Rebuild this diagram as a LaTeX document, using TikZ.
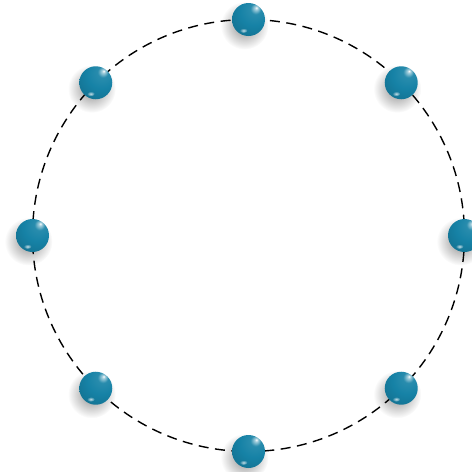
\documentclass[tikz,border=0pt]{standalone}
\usetikzlibrary{fadings}
\definecolor{bc}{RGB}{22,130,166}
\pgfdeclareradialshading{myball}{\pgfpoint{12bp}{18bp}}{color(0bp)=(white); color(2.5bp)=(bc!40!white); color(8bp)=(bc!92!white); color(22bp)=(bc); color(50bp)=(bc!80!black); color(80bp)=(bc!55!black)}
\tikzfading[name=softfade, inner color=transparent!0, outer color=transparent!100]
\tikzset{
  ringline/.style={black, line width=1.4pt, dash pattern=on 10pt off 6.5pt},
  ballnode/.style={circle, minimum size=33pt, inner sep=0pt, shade, shading=myball},
  ballshadow/.style={black, opacity=0.45, path fading=softfade},
  ballspot/.style={white, opacity=0.75, path fading=softfade}
}
\begin{document}
\begin{tikzpicture}[x=1pt,y=-1pt]
\useasboundingbox (0,0) rectangle (472,472);
\coordinate (c) at (248.5,235.5);
\draw[ringline] (c) circle (216);
\foreach \a [count=\i] in {90,45,0,-45,-90,-135,180,135} {
  \path (c) ++(\a:216 and -216) coordinate (p\i);
  \fill[ballshadow] ([xshift=-4pt,yshift=-6pt]p\i) circle (24);
  \node[ballnode] (b\i) at (p\i) {};
  \fill[ballspot] ([xshift=-5pt,yshift=-11pt]p\i) ellipse (4 and 2.5);
}
\end{tikzpicture}
\end{document}
